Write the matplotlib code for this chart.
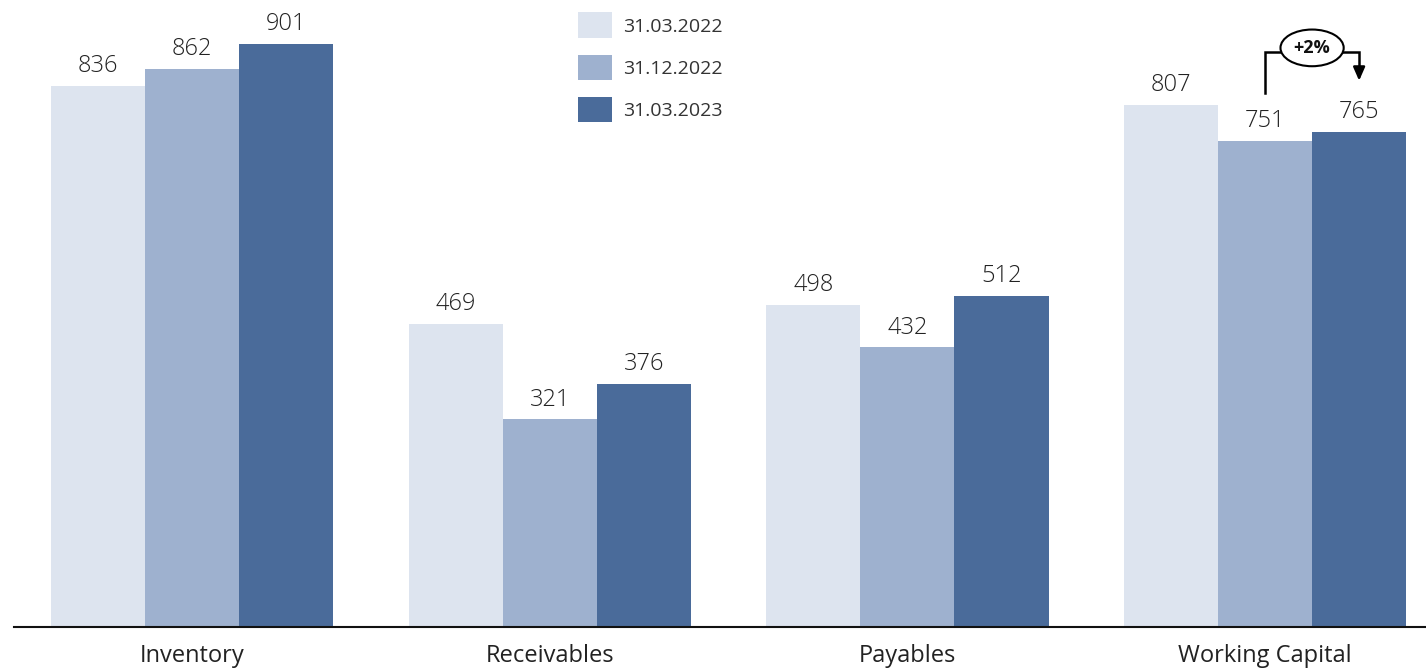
import numpy as np
import matplotlib
matplotlib.use("Agg")
import matplotlib.pyplot as plt

# =====================================
# data
# =====================================

categories = ["Inventory", "Receivables", "Payables", "Working Capital"]

series_names = ["31.03.2022", "31.12.2022", "31.03.2023"]

values_2022_03 = [836, 469, 498, 807]
values_2022_12 = [862, 321, 432, 751]
values_2023_03 = [901, 376, 512, 765]

change_label = "+2%"

colors = ["#dde4ef", "#9eb1cf", "#4a6b9a"]

plt.rcParams["font.family"] = ["Open Sans", "DejaVu Sans"]

fig = plt.figure(figsize=(14.26, 6.69), dpi=100)
ax = fig.add_axes([14 / 1426, 42 / 669, 1 - 14 / 1426, 1 - 42 / 669])

x = np.arange(len(categories))
width = 0.263
all_series = [values_2022_03, values_2022_12, values_2023_03]

for i, (name, vals) in enumerate(zip(series_names, all_series)):
    pos = x + (i - 1) * width
    ax.bar(pos, vals, width=width, color=colors[i], label=name)
    for p, v in zip(pos, vals):
        ax.text(p, v + 12, str(v), ha="center", va="bottom",
                fontsize=17, color="#222222", fontweight="light")

ax.set_xlim(-0.498, 3.45)
ax.set_ylim(0, 969)

for s in ["top", "right", "left"]:
    ax.spines[s].set_visible(False)
ax.spines["bottom"].set_linewidth(1.5)
ax.spines["bottom"].set_color("#111111")
ax.set_yticks([])
ax.set_xticks(x)
ax.set_xticklabels(categories, fontsize=17, color="#222222")
ax.tick_params(axis="x", length=0, pad=12)

# =====================================
# legend
# =====================================

leg = ax.legend(loc="upper left", bbox_to_anchor=(0.387, 1.008), frameon=False,
                fontsize=14, handlelength=1.75, handleheight=1.65,
                labelspacing=0.85, handletextpad=0.55)
for t in leg.get_texts():
    t.set_color("#333333")

# =====================================
# +2% bracket
# =====================================

x_from = x[3]
x_to = x[3] + width
y_top = 889
ax.plot([x_from, x_from, x_to, x_to], [825, y_top, y_top, 860],
        color="black", linewidth=1.8, solid_joinstyle="miter")
ax.annotate("", xy=(x_to, 840), xytext=(x_to, 862),
            arrowprops=dict(arrowstyle="-|>,head_width=0.35,head_length=0.8",
                            color="black", lw=1.8))
ax.text((x_from + x_to) / 2, y_top + 6, change_label, ha="center", va="center",
        fontsize=13, fontweight="bold", color="#111111",
        bbox=dict(boxstyle="ellipse,pad=0.22", fc="white", ec="black", lw=1.5))

plt.savefig("out.png", dpi=100)
